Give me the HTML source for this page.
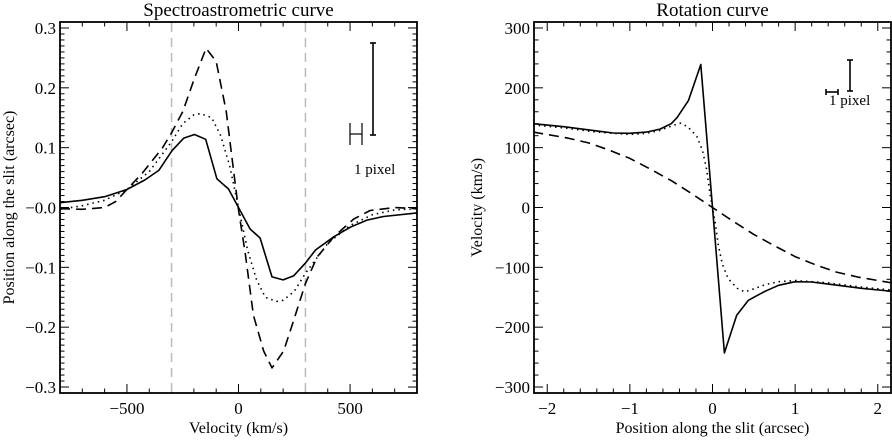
<!DOCTYPE html>
<html><head><meta charset="utf-8"><style>
body{margin:0;background:#fff;}
svg text{font-family:"Liberation Serif",serif;fill:#000;}
</style></head><body>
<svg id="c" width="892" height="437" xmlns="http://www.w3.org/2000/svg"></svg>
<script>
// ---- Left chart data: spectroastrometric curve ----
const saSolidV = [-800,-700,-600,-500,-420,-357,-298,-245,-197,-147,-97,-45,0,52,97,150,200,248,300,345,427,501,576,650,800];
const saSolidY = [0.008,0.012,0.018,0.03,0.046,0.062,0.095,0.116,0.122,0.114,0.048,0.031,0.0,-0.036,-0.051,-0.116,-0.121,-0.114,-0.093,-0.071,-0.049,-0.033,-0.021,-0.015,-0.009];
const saDashV = [-800,-700,-600,-550,-500,-430,-340,-300,-250,-197,-145,-100,-55,-20,0,30,67,113,150,202,248,300,352,427,517,590,700,800];
const saDashY = [-0.002,-0.003,0.0,0.01,0.03,0.058,0.1,0.125,0.16,0.216,0.266,0.244,0.161,0.056,-0.004,-0.076,-0.18,-0.24,-0.268,-0.24,-0.188,-0.127,-0.083,-0.049,-0.019,-0.005,0.0,-0.002];
const saDotV = [-800,-700,-600,-500,-400,-300,-250,-200,-170,-120,-80,-40,0,40,80,120,170,200,250,300,400,500,600,700,800];
const saDotY = [-0.003,0.003,0.012,0.03,0.06,0.11,0.14,0.155,0.157,0.15,0.12,0.07,0,-0.07,-0.12,-0.15,-0.157,-0.155,-0.14,-0.11,-0.06,-0.03,-0.012,-0.004,-0.002];
const saXTicks = [-500,0,500];
const saYTicks = [0.3,0.2,0.1,0.0,-0.1,-0.2,-0.3];
const saYLabels = ["0.3","0.2","0.1","\u22120.0","\u22120.1","\u22120.2","\u22120.3"];
const saXLabels = ["\u2212500","0","500"];
// ---- Right chart data: rotation curve ----
const rcSolidX = [-2.17,-1.8,-1.4,-1.2,-1.0,-0.8,-0.635,-0.5,-0.43,-0.29,-0.142,0.144,0.293,0.434,0.5,0.635,0.8,1.0,1.2,1.4,1.8,2.17];
const rcSolidY = [140,135,128,124.5,124,126,131,140,150,179,239,-243,-180,-155,-150,-140,-130,-124,-124.5,-128,-135,-140];
const rcDotX = [-2.17,-1.8,-1.4,-1.0,-0.8,-0.635,-0.5,-0.39,-0.3,-0.19,-0.12,-0.07,-0.03,0,0.03,0.07,0.12,0.19,0.3,0.39,0.5,0.635,0.8,1.0,1.4,1.8,2.17];
const rcDotY = [138,133,126,122,124,129,136,141,135,119,95,63,23,0,-23,-63,-95,-119,-135,-141,-136,-129,-124,-122,-126,-133,-138];
const rcDashX = [-2.17,-2,-1.75,-1.5,-1.25,-1,-0.75,-0.5,-0.25,0,0.25,0.5,0.75,1,1.25,1.5,1.75,2,2.17];
const rcDashY = [126,122,116,108,96,82,64,45,23,0,-23,-45,-64,-82,-96,-108,-116,-122,-126];
const rcXTicks = [-2,-1,0,1,2];
const rcXLabels = ["\u22122","\u22121","0","1","2"];
const rcYTicks = [300,200,100,0,-100,-200,-300];
const rcYLabels = ["300","200","100","0","\u2212100","\u2212200","\u2212300"];

const svg = document.getElementById('c');
const NS = 'http://www.w3.org/2000/svg';
function mk(tag, attrs, parent){const e=document.createElementNS(NS,tag);for(const k in attrs)e.setAttribute(k,attrs[k]);(parent||svg).appendChild(e);return e;}
function txt(s, attrs, parent){const e=mk('text',attrs,parent);e.textContent=s;return e;}

function panel(cfg){
  const g = mk('g',{});
  
  
  const sx = v => cfg.x0 + (v-cfg.xmin)/(cfg.xmax-cfg.xmin)*(cfg.x1-cfg.x0);
  const sy = v => cfg.y1 - (v-cfg.ymin)/(cfg.ymax-cfg.ymin)*(cfg.y1-cfg.y0);
  const tg = mk('g',{stroke:'#000','stroke-width':1},g);
  
  
  for(let v=Math.ceil(cfg.xmin/cfg.xminor)*cfg.xminor; v<=cfg.xmax+1e-9; v+=cfg.xminor){
    const major = Math.abs(v/cfg.xmajor-Math.round(v/cfg.xmajor))<1e-6;
    const L = major?9:4.5, X=sx(v);
    mk('line',{x1:X,x2:X,y1:cfg.y1,y2:cfg.y1-L},tg);
    mk('line',{x1:X,x2:X,y1:cfg.y0,y2:cfg.y0+L},tg);
  }
  for(let v=Math.ceil(cfg.ymin/cfg.yminor)*cfg.yminor; v<=cfg.ymax+1e-9; v+=cfg.yminor){
    const major = Math.abs(v/cfg.ymajor-Math.round(v/cfg.ymajor))<1e-6;
    const L = major?9:4.5, Y=sy(v);
    mk('line',{y1:Y,y2:Y,x1:cfg.x0,x2:cfg.x0+L},tg);
    mk('line',{y1:Y,y2:Y,x1:cfg.x1,x2:cfg.x1-L},tg);
  }
  const fr = mk('rect',{x:cfg.x0,y:cfg.y0,width:cfg.x1-cfg.x0,height:cfg.y1-cfg.y0,fill:'none',stroke:'#000','stroke-width':1.8},g);
  
  
  cfg.xTicks.forEach((v,i)=>{
    const t = txt(cfg.xLabels[i],{x:sx(v),y:cfg.y1+21,'text-anchor':'middle','font-size':17},g);
    
    
  });
  cfg.yTicks.forEach((v,i)=>{
    const t = txt(cfg.yLabels[i],{x:cfg.x0-4,y:sy(v)+6,'text-anchor':'end','font-size':17},g);
    
    
  });
  const ti = txt(cfg.title,{x:(cfg.x0+cfg.x1)/2,y:16,'text-anchor':'middle','font-size':19},g);
  
  
  const xt = txt(cfg.xTitle,{x:(cfg.x0+cfg.x1)/2,y:433,'text-anchor':'middle','font-size':16},g);
  
  
  const yt = txt(cfg.yTitle,{x:0,y:0,'text-anchor':'middle','font-size':16,transform:`translate(${cfg.yTitleX},${(cfg.y0+cfg.y1)/2}) rotate(-90)`},g);
  
  
  return {g,sx,sy};
}
function series(p, xs, ys, dash, name){
  const d = xs.map((v,i)=>(i?'L':'M')+p.sx(v).toFixed(1)+' '+p.sy(ys[i]).toFixed(1)).join(' ');
  const a = {d, fill:'none', stroke:'#000','stroke-width':1.6,'stroke-linejoin':'round'};
  if(dash) a['stroke-dasharray']=dash;
  const e = mk('path',a,p.g);
  
  
}

const L = panel({name:'spectroastrometric-chart',x0:60,x1:417,y0:22,y1:393,xmin:-800,xmax:800,ymin:-0.31,ymax:0.31,
  xmajor:500,xminor:100,ymajor:0.1,yminor:0.01,xTicks:saXTicks,xLabels:saXLabels,yTicks:saYTicks,yLabels:saYLabels,
  title:'Spectroastrometric curve',xTitle:'Velocity (km/s)',yTitle:'Position along the slit (arcsec)',yTitleX:14});
[-300,300].forEach(v=>{
  const e = mk('line',{x1:L.sx(v),x2:L.sx(v),y1:23,y2:392,stroke:'#bbb','stroke-width':1.5,'stroke-dasharray':'9 6'},L.g);
  
  
});
series(L, saSolidV, saSolidY, null, 'series-solid');
series(L, saDashV, saDashY, '10 6', 'series-dashed');
series(L, saDotV, saDotY, '1.5 4', 'series-dotted');
const eb1 = mk('g',{stroke:'#000','stroke-width':1.6},L.g);


mk('line',{x1:373,x2:373,y1:43,y2:135},eb1);
mk('line',{x1:370,x2:376,y1:43,y2:43},eb1);
mk('line',{x1:370,x2:376,y1:135,y2:135},eb1);
mk('line',{x1:350,x2:350,y1:123,y2:145,'stroke-width':1.2},eb1);
mk('line',{x1:362,x2:362,y1:123,y2:145,'stroke-width':1.2},eb1);
mk('line',{x1:350,x2:362,y1:134,y2:134,'stroke-width':1.2},eb1);
const pl1 = txt('1 pixel',{x:354,y:174,'font-size':15},L.g);



const R = panel({name:'rotation-chart',x0:534,x1:891,y0:22,y1:393,xmin:-2.16,xmax:2.16,ymin:-310,ymax:310,
  xmajor:1,xminor:0.2,ymajor:100,yminor:20,xTicks:rcXTicks,xLabels:rcXLabels,yTicks:rcYTicks,yLabels:rcYLabels,
  title:'Rotation curve',xTitle:'Position along the slit (arcsec)',yTitle:'Velocity (km/s)',yTitleX:482});
series(R, rcSolidX, rcSolidY, null, 'series-solid');
series(R, rcDotX, rcDotY, '1.5 4', 'series-dotted');
series(R, rcDashX, rcDashY, '10 6', 'series-dashed');
const eb2 = mk('g',{stroke:'#000','stroke-width':1.6},R.g);


mk('line',{x1:850,x2:850,y1:60,y2:91},eb2);
mk('line',{x1:847,x2:853,y1:60,y2:60},eb2);
mk('line',{x1:847,x2:853,y1:91,y2:91},eb2);
mk('line',{x1:826,x2:838,y1:92,y2:92},eb2);
mk('line',{x1:826,x2:826,y1:89,y2:95},eb2);
mk('line',{x1:838,x2:838,y1:89,y2:95},eb2);
const pl2 = txt('1 pixel',{x:829,y:105,'font-size':15},R.g);


</script>
</body></html>
